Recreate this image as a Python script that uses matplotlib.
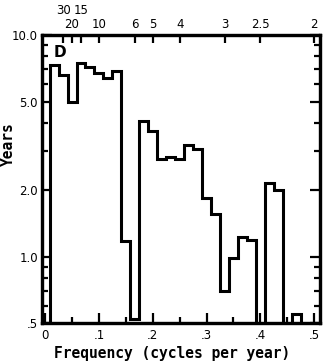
import numpy as np
import matplotlib.pyplot as plt
from matplotlib.ticker import FixedLocator, FixedFormatter, NullFormatter

# ---------------------------------------------------------------------------
# Date
# ---------------------------------------------------------------------------
RECORD_YEARS = 60                      # lungimea seriei -> frecvente k/60
harmonic = np.arange(1, 31)            # k = 1 .. 30
years = [7.3, 6.6, 5.0, 7.5, 7.2, 6.7, 6.4, 6.9, 1.17, 0.52,
         4.1, 3.7, 2.75, 2.8, 2.75, 3.2, 3.05, 1.83, 1.55, 0.70,
         0.98, 1.23, 1.19, 0.45, 2.14, 2.0, 0.45, 0.55, 0.45, 0.45]

y_major = [0.5, 1.0, 2.0, 5.0, 10.0]
y_major_labels = [".5", "1.0", "2.0", "5.0", "10.0"]
y_minor = [0.6, 0.7, 0.8, 0.9, 3, 4, 6, 7, 8, 9]

x_major = [0, .1, .2, .3, .4, .5]
x_major_labels = ["0", ".1", ".2", ".3", ".4", ".5"]
x_minor = [.05, .15, .25, .35, .45]

period_low = [20, 10, 6, 5, 4, 3, 2.5, 2]
period_low_labels = ["20", "10", "6", "5", "4", "3", "2.5", "2"]
period_high = [30, 15]
period_high_labels = ["30", "15"]

TICK_FONT = "DejaVu Sans"
LABEL_FONT = "DejaVu Sans Mono"

# ---------------------------------------------------------------------------
# Figura
# ---------------------------------------------------------------------------
fig = plt.figure(figsize=(3.29, 3.64), dpi=100)
ax = fig.add_axes([0.128, 0.112, 0.845, 0.792])

edges = np.append(harmonic - 0.5, harmonic[-1] + 0.5) / RECORD_YEARS
ax.stairs(years, edges, baseline=0.1, color="black", linewidth=2.2,
          zorder=3)

ax.set_yscale("log")
ax.set_ylim(0.5, 10.0)
ax.set_xlim(-0.0056, 0.511)

# axa Y (stanga + dreapta, tick-uri spre interior)
ax.yaxis.set_major_locator(FixedLocator(y_major))
ax.yaxis.set_major_formatter(FixedFormatter(y_major_labels))
ax.yaxis.set_minor_locator(FixedLocator(y_minor))
ax.yaxis.set_minor_formatter(NullFormatter())
ax.tick_params(axis="y", which="both", direction="in", right=True,
               width=1.6)
ax.tick_params(axis="y", which="major", length=7, pad=3)
ax.tick_params(axis="y", which="minor", length=4.5)

# axa X jos
ax.xaxis.set_major_locator(FixedLocator(x_major))
ax.xaxis.set_major_formatter(FixedFormatter(x_major_labels))
ax.xaxis.set_minor_locator(FixedLocator(x_minor))
ax.xaxis.set_minor_formatter(NullFormatter())
ax.tick_params(axis="x", which="both", direction="in", width=1.6)
ax.tick_params(axis="x", which="major", length=7, pad=4)
ax.tick_params(axis="x", which="minor", length=4.5)

for lab in ax.get_xticklabels() + ax.get_yticklabels():
    lab.set_fontfamily(TICK_FONT)
    lab.set_fontsize(8.5)

for sp in ax.spines.values():
    sp.set_linewidth(2.3)

# axa X sus: perioada (ani)
ax2 = ax.twiny()
ax2.set_xlim(ax.get_xlim())
ax2.xaxis.set_major_locator(FixedLocator(1.0 / np.array(period_low)))
ax2.xaxis.set_major_formatter(FixedFormatter(period_low_labels))
ax2.xaxis.set_minor_locator(FixedLocator(1.0 / np.array(period_high)))
ax2.xaxis.set_minor_formatter(FixedFormatter(period_high_labels))
ax2.tick_params(axis="x", which="both", direction="in", width=1.6,
                length=5.5)
ax2.tick_params(axis="x", which="major", pad=3)
ax2.tick_params(axis="x", which="minor", pad=13)
for lab in (ax2.get_xticklabels() + ax2.get_xticklabels(minor=True)):
    lab.set_fontfamily(TICK_FONT)
    lab.set_fontsize(8.5)
for sp in ax2.spines.values():
    sp.set_linewidth(2.3)

# etichete
ax.set_xlabel("Frequency (cycles per year)", fontfamily=LABEL_FONT,
              fontweight="bold", fontsize=10.5)
ax.xaxis.set_label_coords(0.468, -0.08)
ax.set_ylabel("Years", fontfamily=LABEL_FONT, fontweight="bold",
              fontsize=10.5)
ax.yaxis.set_label_coords(-0.095, 0.62)

ax.text(0.04, 0.965, "D", transform=ax.transAxes, fontsize=11,
        fontweight="bold", fontfamily=TICK_FONT, va="top", ha="left")

fig.savefig("out.png", dpi=100)
